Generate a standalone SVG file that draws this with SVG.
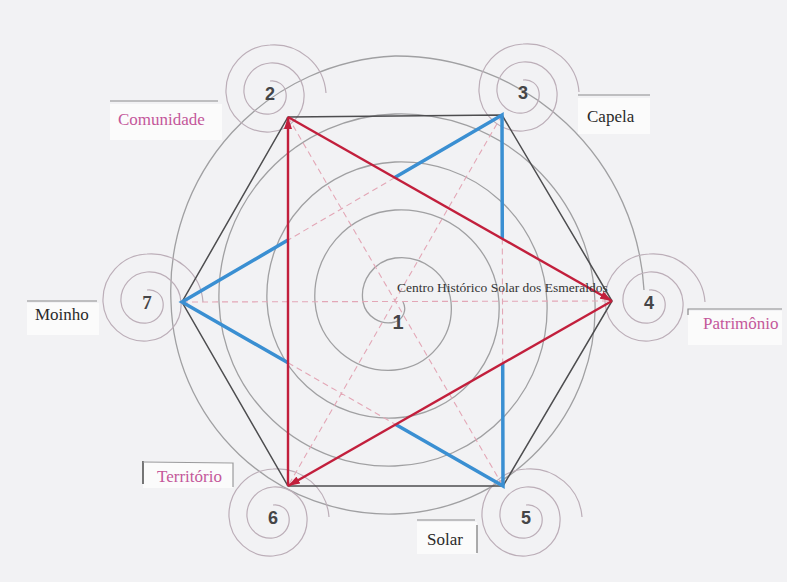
<svg xmlns="http://www.w3.org/2000/svg" xmlns:xlink="http://www.w3.org/1999/xlink" width="787" height="582" viewBox="0 0 787 582">
<style>
.bg{fill:#f2f2f4}
.box{fill:#fbfbfb}
.sp{fill:none;stroke:#a0a0a2;stroke-width:1.3}
.nsp{fill:none;stroke:#bcaeb8;stroke-width:1.2}
.hex{fill:none;stroke:#4d4d4f;stroke-width:1.5;stroke-linejoin:miter}
.blue{fill:none;stroke:#3a8fd2;stroke-width:3.5;stroke-linejoin:miter}
.red{fill:none;stroke:#c21f3c;stroke-width:2.4}
.dash{fill:none;stroke:#e3a7b6;stroke-width:1.1;stroke-dasharray:6 4}
.rule{fill:none;stroke:#8a8a8c;stroke-width:1.2}
.num{font-family:"Liberation Sans",Arial,sans-serif;font-weight:bold;font-size:18px;fill:#454547;text-anchor:middle}
.lab{font-family:"Liberation Serif","Times New Roman",serif;font-size:17px}
.pink{fill:#c4579a}
.blk{fill:#2a2a2a}
</style>
<defs>
<marker id="ar" viewBox="0 0 12 8" refX="12" refY="4" markerWidth="12" markerHeight="8" markerUnits="userSpaceOnUse" orient="auto">
<path d="M0,0 L12,4 L0,8 z" fill="#c21f3c"/>
</marker>
<path id="ns" d="M0,-12 a14,14 0 0 1 16,12 a18.5,18.5 0 0 1 -16,21 a23.5,23.5 0 0 1 -26,-21 a28,28 0 0 1 26,-30 a32,32 0 0 1 34,30 a36.5,36.5 0 0 1 -34,39 a41.5,41.5 0 0 1 -44,-39 a46,46 0 0 1 44,-48 a52,52 0 0 1 56,48"/>
</defs>
<rect class="bg" x="0" y="0" width="787" height="582"/>
<g id="label-boxes">
<rect class="box" x="110" y="104" width="112" height="36"/>
<rect class="box" x="578" y="98" width="72" height="36"/>
<rect class="box" x="688" y="311" width="94" height="34"/>
<rect class="box" x="27" y="303" width="72" height="32"/>
<rect class="box" x="143" y="462" width="90" height="26"/>
<rect class="box" x="417" y="522" width="60" height="32"/>
</g>
<g id="node-1">
<path class="sp" d="M403,302 A14,14 0 0 1 395,322 A26,26 0 0 1 363,302 A38,38 0 0 1 395,258 A50,50 0 0 1 451,302 A62,62 0 0 1 395,370 A74,74 0 0 1 315,302 A86,86 0 0 1 395,210 A98,98 0 0 1 499,302 A110,110 0 0 1 395,418 A122,122 0 0 1 267,302 A134,134 0 0 1 395,162 A146,146 0 0 1 547,302 A158,158 0 0 1 395,466 A170,170 0 0 1 219,302 A182,182 0 0 1 395,114 A194,194 0 0 1 595,302 A206,206 0 0 1 395,514 A218,218 0 0 1 171,302 A235,235 0 0 1 395,56 A248,248 0 0 1 644,290"/>
</g>
<g id="node-2"><use xlink:href="#ns" href="#ns" class="nsp" x="270" y="93"/></g>
<g id="node-3"><use xlink:href="#ns" href="#ns" class="nsp" x="523" y="92"/></g>
<g id="node-4"><use xlink:href="#ns" href="#ns" class="nsp" x="649" y="302"/></g>
<g id="node-5"><use xlink:href="#ns" href="#ns" class="nsp" x="526" y="517"/></g>
<g id="node-6"><use xlink:href="#ns" href="#ns" class="nsp" x="273" y="517"/></g>
<g id="node-7"><use xlink:href="#ns" href="#ns" class="nsp" x="147" y="302"/></g>
<g id="connectors">
<path class="dash" d="M288,117 L503,486 M502,115 L288,486 M182,302 L612,301 M394.8,177.6 L288,240.1 M502.3,238.6 L502.7,363.2 M288,362.8 L395.7,424.5"/>
<path class="hex" d="M288,117 L502,115 L612,301 L503,486 L288,486 L182,302 Z"/>
<path class="blue" d="M394.8,177.6 L502,115 L502.3,238.6"/>
<path class="blue" d="M288,240.1 L182,302 L288,362.8"/>
<path class="blue" d="M502.7,363.2 L503,486 L395.7,424.5"/>
<path class="red" d="M288,117 L612,301" marker-end="url(#ar)"/>
<path class="red" d="M612,301 L288,486" marker-end="url(#ar)"/>
<path class="red" d="M288,486 L288,117" marker-end="url(#ar)"/>
</g>
<g id="labels">
<line class="rule" x1="110" y1="101" x2="218" y2="101"/>
<line class="rule" x1="578" y1="95" x2="650" y2="95"/>
<path class="rule" d="M688,315 L688,309 L782,309"/>
<line class="rule" x1="27" y1="301" x2="97" y2="301"/>
<line class="rule" x1="143" y1="461" x2="143" y2="484" style="stroke:#555;stroke-width:1.6"/>
<path class="rule" d="M143,462 L233,463 L233,487" style="stroke:#9a9a9c"/>
<line class="rule" x1="417" y1="520" x2="475" y2="520"/>
<line class="rule" x1="477" y1="525" x2="477" y2="553" style="stroke:#777"/>
<text class="num" x="398" y="329" style="font-size:20px">1</text>
<text class="num" x="270" y="99.5">2</text>
<text class="num" x="523" y="98.5">3</text>
<text class="num" x="649" y="308.5">4</text>
<text class="num" x="526" y="523.5">5</text>
<text class="num" x="273" y="523.5">6</text>
<text class="num" x="147" y="308.5" style="font-family:'Liberation Serif','Times New Roman',serif;font-size:19px">7</text>
<text x="397" y="292" style="font-family:'Liberation Serif','Times New Roman',serif;font-size:13.5px;fill:#353535">Centro Histórico Solar dos Esmeraldos</text>
<text class="lab pink" x="118" y="125">Comunidade</text>
<text class="lab blk" x="587" y="122">Capela</text>
<text class="lab pink" x="703" y="329">Patrimônio</text>
<text class="lab blk" x="35" y="320">Moinho</text>
<text class="lab pink" x="157" y="482">Território</text>
<text class="lab blk" x="427" y="545">Solar</text>
</g>
</svg>
